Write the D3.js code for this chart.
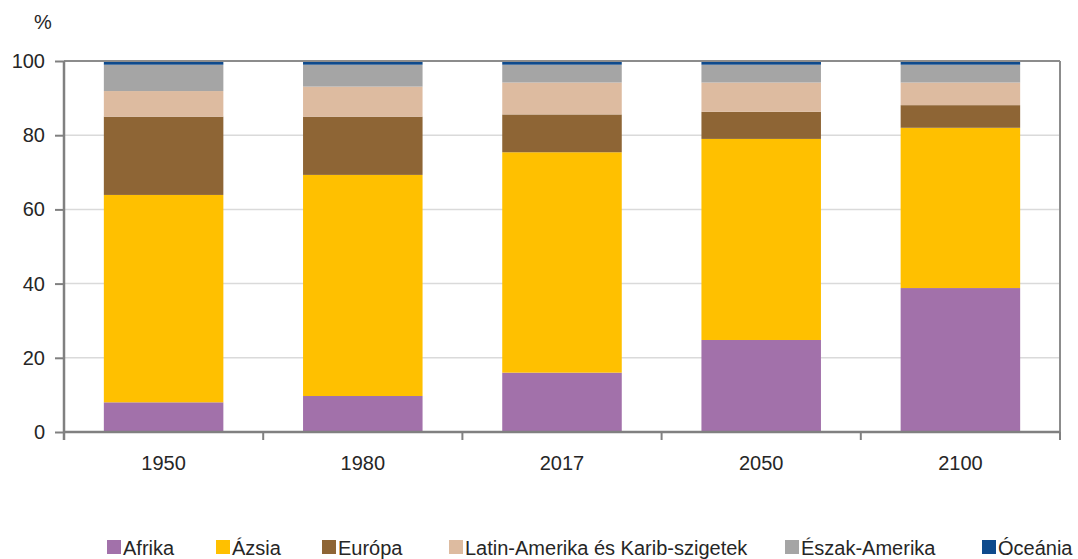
<!DOCTYPE html>
<html><head><meta charset="utf-8">
<script src="https://cdn.jsdelivr.net/npm/d3@7"></script>
<style>body{margin:0;background:#fff}svg{display:block}text{font-family:"Liberation Sans",Arial,sans-serif;fill:#262626}</style>
</head><body><svg id="c" width="1078" height="559"></svg>
<script>
const years = ["1950","1980","2017","2050","2100"];
const seriesNames = ["Afrika","Ázsia","Európa","Latin-Amerika és Karib-szigetek","Észak-Amerika","Óceánia"];
const afrika   = [8.0, 9.7, 16.0, 24.8, 38.8];
const azsia    = [55.9, 59.6, 59.4, 54.2, 43.2];
const europa   = [21.1, 15.7, 10.2, 7.3, 6.1];
const latin    = [6.9, 8.1, 8.6, 7.9, 6.1];
const eszak    = [7.1, 5.9, 4.8, 4.8, 4.8];
const oceania  = [1.0, 1.0, 1.0, 1.0, 1.0];
const yTicks = [0,20,40,60,80,100];
const colors = ["#A271AA","#FFC000","#8E6535","#DDBBA0","#A5A5A5","#0E4A8C"];

const seriesVals = [afrika, azsia, europa, latin, eszak, oceania];
const rows = years.map((y,i)=>{const r={year:y}; seriesNames.forEach((s,j)=>r[s]=seriesVals[j][i]); return r;});
const stack = d3.stack().keys(seriesNames)(rows);

const svg = d3.select("#c");
const L=64, R=1060, T=61, B=432;
const FS = 20;
const x = d3.scaleBand().domain(years).range([L,R]).paddingInner(0.4).paddingOuter(0.2);
const y = d3.scaleLinear().domain([0,100]).range([B,T]);

// gridlines
svg.append("g").selectAll("line").data(yTicks.filter(t=>t>0&&t<100)).join("line")
  .attr("x1",L).attr("x2",R).attr("y1",d=>y(d)).attr("y2",d=>y(d))
  .attr("stroke","#dadada").attr("stroke-width",1.5);

// bars
svg.append("g").selectAll("g").data(stack).join("g").attr("fill",(d,i)=>colors[i])
  .selectAll("rect").data(d=>d).join("rect")
  .attr("x",d=>x(d.data.year)).attr("width",x.bandwidth())
  .attr("y",d=>y(d[1])).attr("height",d=>y(d[0])-y(d[1]));

// frame: top and right
svg.append("line").attr("x1",L).attr("x2",R).attr("y1",T).attr("y2",T).attr("stroke","#8c8c8c").attr("stroke-width",2);
svg.append("line").attr("x1",R).attr("x2",R).attr("y1",T).attr("y2",B+8).attr("stroke","#8c8c8c").attr("stroke-width",2);

// y axis
const ya = svg.append("g").attr("transform",`translate(${L},0)`)
  .call(d3.axisLeft(y).tickValues(yTicks).tickSize(9).tickPadding(10).tickFormat(d3.format("d")));
ya.attr("font-size",FS);
ya.select(".domain").attr("stroke","#808080").attr("stroke-width",2.5).attr("d",`M0,${T}V${B+8}`);
ya.selectAll(".tick line").attr("stroke","#808080").attr("stroke-width",2);
ya.selectAll(".tick text").attr("font-size",FS).attr("font-family","Liberation Sans, Arial, sans-serif").attr("fill","#262626");

// x axis
const xa = svg.append("g").attr("transform",`translate(0,${B})`)
  .call(d3.axisBottom(x).tickSize(0).tickPadding(24));
xa.attr("font-size",FS);
xa.select(".domain").attr("stroke","#808080").attr("stroke-width",2.5).attr("d",`M${L},0H${R}`);
xa.selectAll(".tick text").attr("font-size",FS).attr("font-family","Liberation Sans, Arial, sans-serif").attr("fill","#262626");
// separator ticks between categories
const step = x.step();
svg.append("g").selectAll("line").data(d3.range(0,years.length+1)).join("line")
  .attr("x1",i=>L+i*step).attr("x2",i=>L+i*step).attr("y1",B).attr("y2",B+8)
  .attr("stroke","#808080").attr("stroke-width",2);

// % label
svg.append("text").attr("x",34).attr("y",29).attr("font-size",FS).text("%");

// legend
const legX = [107,216,322,449,785,982];
const lg = svg.append("g").selectAll("g").data(seriesNames).join("g")
  .attr("transform",(d,i)=>`translate(${legX[i]},555)`);
lg.append("rect").attr("x",0).attr("y",-15).attr("width",14).attr("height",14).attr("fill",(d,i)=>colors[i]);
lg.append("text").attr("x",16).attr("y",0).attr("font-size",FS).text(d=>d);
</script></body></html>
